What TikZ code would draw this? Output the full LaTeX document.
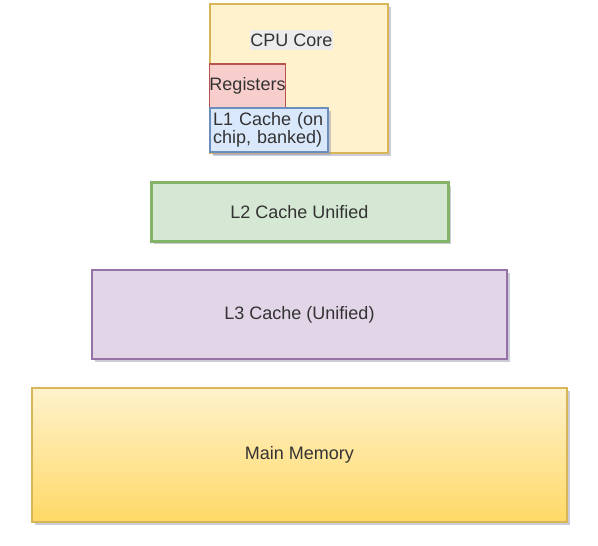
\documentclass[tikz,border=0pt]{standalone}
\usepackage{fontspec}
\setmainfont{Liberation Sans}
\usetikzlibrary{shadows}
\definecolor{yfill}{HTML}{FFF2CC}
\definecolor{ystroke}{HTML}{D6B656}
\definecolor{rfill}{HTML}{F8CECC}
\definecolor{rstroke}{HTML}{B85450}
\definecolor{bfill}{HTML}{DAE8FC}
\definecolor{bstroke}{HTML}{6C8EBF}
\definecolor{gfill}{HTML}{D5E8D4}
\definecolor{gstroke}{HTML}{82B366}
\definecolor{pfill}{HTML}{E1D5E7}
\definecolor{pstroke}{HTML}{9673A6}
\definecolor{mbottom}{HTML}{FFD966}
\definecolor{shadowc}{HTML}{9A9AB4}
\definecolor{lblbg}{HTML}{ECECEC}
\definecolor{txt}{HTML}{333333}
\begin{document}
\begin{tikzpicture}[x=1bp,y=-1bp,
  box/.style={draw, line width=1.5bp, inner sep=0pt, text=txt,
    font=\fontsize{18bp}{18bp}\selectfont},
  shad/.style={drop shadow={shadow xshift=3bp, shadow yshift=-3bp,
    fill=shadowc, opacity=0.5}},
  lbl/.style={inner sep=0pt, text=txt, font=\fontsize{18bp}{18bp}\selectfont},
]
\useasboundingbox (0,0) rectangle (598,546);
% CPU core
\node[box, shad, fill=yfill, draw=ystroke, minimum width=178bp,
  minimum height=149bp] (cpu) at (299,78.5) {};
\node[lbl, fill=lblbg, inner xsep=0.5bp, minimum height=20bp] (cpulabel)
  at (291.5,40) {CPU Core};
% Registers
\node[box, fill=rfill, draw=rstroke, minimum width=75bp,
  minimum height=44bp] (reg) at (247.5,86) {Registers};
% L1
\node[box, shad, fill=bfill, draw=bstroke, minimum width=118bp,
  minimum height=44bp, inner xsep=3bp, text width=112bp, align=left]
  (l1) at (269,130) {L1 Cache (on\\chip, banked)};
% L2
\node[box, shad, fill=gfill, draw=gstroke, line width=3bp,
  minimum width=297bp, minimum height=58bp] (l2) at (299.5,212)
  {L2 Cache Unified};
% L3
\node[box, shad, fill=pfill, draw=pstroke, line width=2bp,
  minimum width=415bp, minimum height=89bp] (l3) at (299.5,314.5)
  {L3 Cache (Unified)};
% Main memory
\node[box, shad, top color=yfill, bottom color=mbottom, draw=ystroke,
  minimum width=535bp, minimum height=134bp] (mm) at (299.5,455)
  {Main Memory};
\end{tikzpicture}
\end{document}
